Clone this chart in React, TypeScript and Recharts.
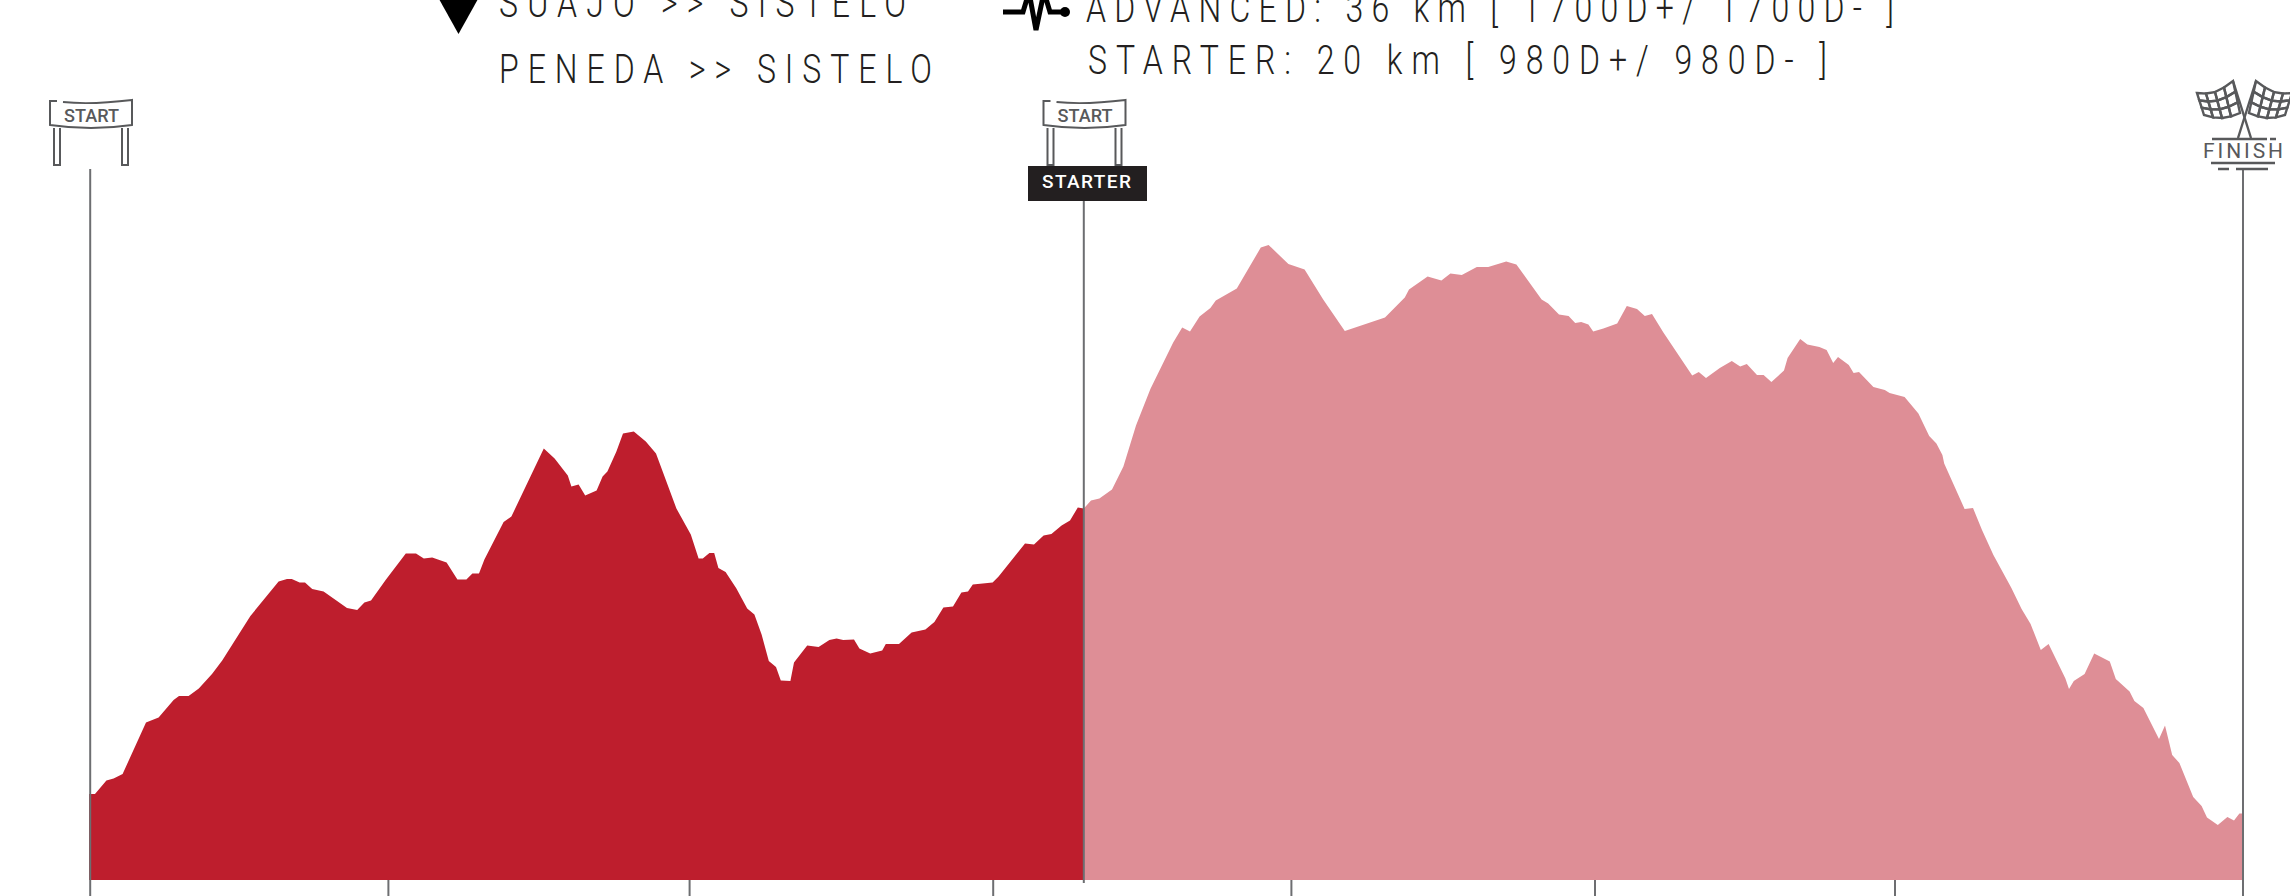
import React from 'react';
import { ComposedChart, Area, XAxis, YAxis, ReferenceLine } from 'recharts';

// distance in km, elevation in m
const starterKm = [-0.02, 0.08, 0.27, 0.39, 0.54, 0.93, 1.14, 1.39, 1.48, 1.64, 1.81, 2.03, 2.2, 2.67, 3.14, 3.28, 3.36, 3.49, 3.58, 3.7, 3.89, 4.28, 4.45, 4.57, 4.68, 4.93, 5.26, 5.43, 5.56, 5.7, 5.94, 6.12, 6.27, 6.37, 6.48, 6.57, 6.89, 7.02, 7.56, 7.74, 7.96, 8.02, 8.14, 8.25, 8.44, 8.54, 8.62, 8.77, 8.88, 9.06, 9.26, 9.43, 9.77, 10.01, 10.14, 10.21, 10.32, 10.4, 10.47, 10.59, 10.77, 10.95, 11.07, 11.19, 11.31, 11.43, 11.51, 11.67, 11.73, 11.95, 12.14, 12.32, 12.44, 12.55, 12.73, 12.82, 13, 13.2, 13.26, 13.48, 13.69, 13.92, 14.07, 14.22, 14.38, 14.52, 14.63, 14.71, 15.04, 15.14, 15.26, 15.58, 15.73, 15.89, 16.02, 16.19, 16.33, 16.46, 16.56];
const starterElev = [172, 172, 199, 203, 212, 315, 325, 360, 368, 368, 383, 412, 439, 528, 597, 602, 602, 595, 595, 582, 577, 544, 540, 555, 559, 601, 653, 653, 643, 645, 635, 601, 601, 613, 613, 641, 716, 727, 863, 843, 809, 787, 791, 769, 779, 807, 817, 857, 893, 897, 877, 853, 743, 691, 643, 643, 654, 654, 624, 616, 583, 543, 531, 491, 438, 426, 399, 398, 435, 469, 466, 480, 483, 480, 481, 463, 453, 459, 472, 472, 495, 501, 516, 545, 547, 575, 577, 591, 595, 607, 625, 673, 671, 689, 692, 709, 719, 745, 743];

const advancedKm = [16.56, 16.68, 16.82, 17.03, 17.22, 17.43, 17.67, 18.05, 18.2, 18.33, 18.49, 18.67, 18.76, 19.11, 19.51, 19.64, 19.97, 20.24, 20.55, 20.91, 21.58, 21.91, 21.98, 22.29, 22.52, 22.67, 22.86, 23.11, 23.3, 23.6, 23.77, 24.19, 24.3, 24.48, 24.64, 24.75, 24.85, 24.97, 25.05, 25.22, 25.45, 25.61, 25.78, 25.91, 26.03, 26.22, 26.7, 26.81, 26.93, 27.16, 27.36, 27.5, 27.61, 27.78, 27.89, 28.02, 28.23, 28.29, 28.5, 28.62, 28.82, 28.94, 29.05, 29.13, 29.31, 29.39, 29.48, 29.72, 29.91, 29.99, 30.24, 30.47, 30.65, 30.77, 30.87, 30.9, 31.24, 31.38, 31.53, 31.72, 32.02, 32.19, 32.34, 32.51, 32.64, 32.92, 32.98, 33.06, 33.24, 33.4, 33.66, 33.76, 33.99, 34.07, 34.22, 34.48, 34.58, 34.7, 34.82, 35.05, 35.19, 35.28, 35.46, 35.62, 35.73, 35.82, 35.88];
const advancedElev = [743, 759, 763, 781, 827, 909, 982, 1075, 1105, 1097, 1127, 1144, 1159, 1183, 1265, 1270, 1232, 1221, 1161, 1098, 1125, 1165, 1181, 1207, 1199, 1213, 1210, 1226, 1226, 1237, 1231, 1161, 1153, 1131, 1128, 1114, 1116, 1111, 1097, 1103, 1113, 1148, 1142, 1128, 1132, 1095, 1009, 1016, 1004, 1024, 1038, 1027, 1032, 1010, 1010, 996, 1019, 1044, 1082, 1071, 1066, 1060, 1034, 1046, 1030, 1014, 1016, 986, 980, 974, 966, 933, 888, 873, 850, 833, 742, 744, 700, 650, 584, 542, 512, 460, 472, 403, 382, 398, 412, 453, 437, 402, 377, 358, 344, 282, 309, 250, 234, 166, 148, 125, 110, 126, 119, 133, 133];

const kmTicks = [0, 4.97, 9.99, 15.05, 20.02, 25.08, 30.08, 35.88];
const starterStartKm = 16.56;
const finishKm = 35.88;
const routeLabels = ['SUAJO >> SISTELO', 'PENEDA >> SISTELO'];
const distanceLabels = ['ADVANCED: 36 km [ 1700D+/ 1700D- ]', 'STARTER: 20 km [ 980D+/ 980D- ]'];

const RED = '#BE1E2D';
const PINK = '#DE8E96';
const GREY = '#6D6E71';
const ICON = '#58595B';

const tableData = [
  ...starterKm.map((km, i) => ({ km, starter: starterElev[i] as number | null, advanced: null as number | null })),
  ...advancedKm.map((km, i) => ({ km, starter: null as number | null, advanced: advancedElev[i] as number | null })),
];

// thin condensed headline: squeezed Roboto, spaced out to the width seen in the picture
const squeeze = 0.8;
const Headline = ({ x, y, width, children }: { x: number; y: number; width: number; children: string }) => (
  <text
    transform={`translate(${x} ${y}) scale(${squeeze} 1)`}
    textLength={width / squeeze}
    lengthAdjust="spacing"
    style={{ fontFamily: 'Roboto', fontWeight: 300, fontSize: 40, fill: '#231F20' }}
  >
    {children}
  </text>
);

const Gate = ({ cx }: { cx: number }) => (
  <g stroke={ICON} fill="none" strokeWidth={2}>
    <path d={`M${cx - 34} 101 H${cx - 41} V125 Q${cx} 131 ${cx + 41} 125 V100 Q${cx} 105 ${cx - 28} 102`} />
    <path d={`M${cx - 37} 128 V165 H${cx - 31} V128 M${cx + 31} 128 V165 H${cx + 37} V128`} />
    <text
      x={cx - 27}
      y={122}
      textLength={55}
      lengthAdjust="spacingAndGlyphs"
      stroke="none"
      style={{ fontFamily: 'Roboto', fontWeight: 500, fontSize: 18, fill: ICON }}
    >
      START
    </text>
  </g>
);

// checker flag as an outlined grid
const flagCols = [0, 1, 2, 3];
const flagRows = [0, 1, 2];
const Flag = ({ flip }: { flip: boolean }) => {
  const top = (t: number) => [2197 + t * 36, 93 - t * 12 + Math.sin(t * 3.14) * 5];
  const bottom = (t: number) => [2204 + t * 36, 115 - t * 2 + Math.sin(t * 3.14) * 4];
  const pt = (c: number, r: number) => {
    const a = top(c / 4);
    const b = bottom(c / 4);
    return `${a[0] + ((b[0] - a[0]) * r) / 3} ${a[1] + ((b[1] - a[1]) * r) / 3}`;
  };
  return (
    <g transform={flip ? 'translate(4489 0) scale(-1 1)' : undefined} stroke={ICON} strokeWidth={2.4} fill="none">
      {flagCols.map((c) =>
        flagRows.map((r) => (
          <path key={`${c}-${r}`} d={`M${pt(c, r)} L${pt(c + 1, r)} L${pt(c + 1, r + 1)} L${pt(c, r + 1)} Z`} />
        )),
      )}
      <path d="M2233 81 L2251 138" />
    </g>
  );
};

const Finish = () => (
  <g>
    <Flag flip={false} />
    <Flag flip />
    <g stroke={ICON} strokeWidth={2.4}>
      <path d="M2212 139 H2267 M2270 139 H2276 M2211 163 H2275 M2218 169 H2229 M2236 169 H2268" />
    </g>
    <text
      x={2203}
      y={158}
      textLength={80}
      lengthAdjust="spacing"
      style={{ fontFamily: 'Roboto', fontWeight: 400, fontSize: 21, fill: ICON }}
    >
      FINISH
    </text>
  </g>
);

const Header = () => (
  <svg width={2290} height={896} style={{ position: 'absolute', left: 0, top: 0, pointerEvents: 'none' }}>
    <path d="M439 -1 L478 -1 L458.5 34 Z" fill="#000" />
    <Headline x={499} y={17} width={407}>{routeLabels[0]}</Headline>
    <Headline x={499} y={83} width={433}>{routeLabels[1]}</Headline>
    <path d="M1003 12 H1023 L1029 -8 L1036 30 L1044 -8 L1050 12 H1062" fill="none" stroke="#000" strokeWidth={5} />
    <circle cx={1065} cy={12} r={5} fill="#000" />
    <Headline x={1086} y={22} width={808}>{distanceLabels[0]}</Headline>
    <Headline x={1088} y={74} width={739}>{distanceLabels[1]}</Headline>
    <Gate cx={91} />
    <Gate cx={1084.5} />
    <rect x={1028} y={166} width={119} height={35} fill="#231F20" />
    <text
      x={1042}
      y={188}
      textLength={89}
      lengthAdjust="spacing"
      style={{ fontFamily: 'Roboto', fontWeight: 500, fontSize: 19, fill: '#fff' }}
    >
      STARTER
    </text>
    <Finish />
  </svg>
);

export default function App() {
  return (
    <div style={{ position: 'absolute', left: 0, top: 0, width: 2290, height: 896, overflow: 'hidden', background: '#fff' }}>
      <ComposedChart width={2290} height={896} data={tableData} margin={{ top: 0, right: 47, bottom: 0, left: 89 }}>
        <XAxis
          dataKey="km"
          type="number"
          domain={[-0.02, finishKm]}
          ticks={kmTicks}
          interval={0}
          height={16}
          axisLine={false}
          tickSize={16}
          tickLine={{ stroke: GREY, strokeWidth: 2 }}
          tickFormatter={() => ''}
        />
        <YAxis type="number" domain={[0, 1760]} hide />
        <Area type="linear" dataKey="starter" fill={RED} fillOpacity={1} stroke="none" connectNulls={false} isAnimationActive={false} />
        <Area type="linear" dataKey="advanced" fill={PINK} fillOpacity={1} stroke="none" connectNulls={false} isAnimationActive={false} />
        <ReferenceLine segment={[{ x: 0, y: 0 }, { x: 0, y: 1422 }]} stroke={GREY} strokeWidth={2} />
        <ReferenceLine segment={[{ x: starterStartKm, y: -6 }, { x: starterStartKm, y: 1360 }]} stroke={GREY} strokeWidth={2} ifOverflow="visible" />
        <ReferenceLine segment={[{ x: finishKm, y: 0 }, { x: finishKm, y: 1420 }]} stroke={GREY} strokeWidth={2} />
      </ComposedChart>
      <Header />
    </div>
  );
}
